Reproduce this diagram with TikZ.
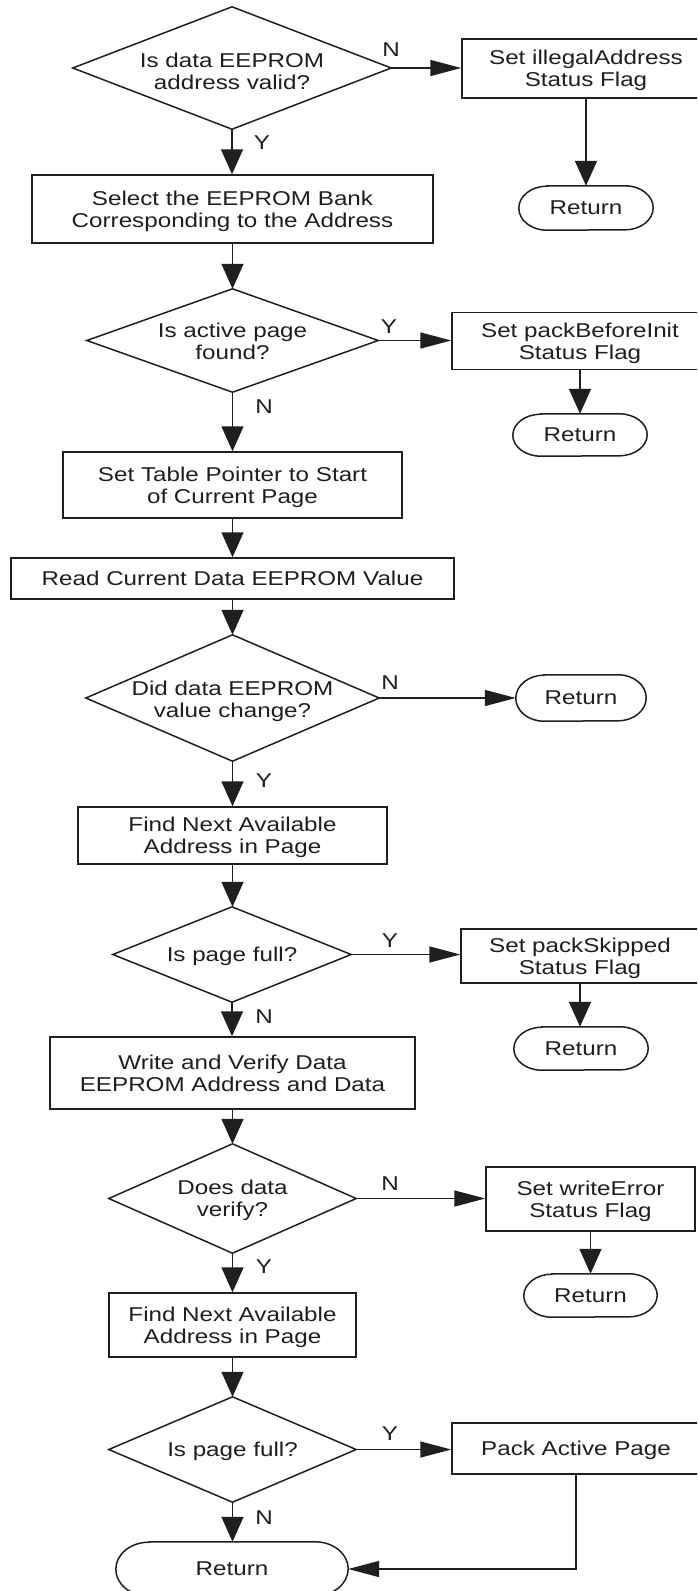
\documentclass[tikz,border=0pt]{standalone}
\usepackage{fontspec}
\setmainfont[FakeStretch=1.21]{Liberation Sans}
\usetikzlibrary{arrows.meta}
\tikzset{
  ln/.style={line width=1.5pt, draw=black!88},
  txt/.style={font=\fontsize{20pt}{22pt}\selectfont, align=center, inner sep=0pt, text=black!88, text depth=0pt},
  boxnode/.style={txt, ln, draw},
  dianode/.style={txt},
  termnode/.style={txt},
  lab/.style={txt},
  varr/.style={ln, -{Triangle[length=25pt,width=22pt]}},
  harr/.style={ln, -{Triangle[length=31pt,width=16pt]}},
}
\newcommand\termline[3]{\draw[ln] ([xshift=#2]#1.north west) -- ([xshift=-#2]#1.north east) arc[start angle=90,end angle=-90,x radius=#2,y radius=#3] -- ([xshift=#2]#1.south west) arc[start angle=270,end angle=90,x radius=#2,y radius=#3] -- cycle;}
\newcommand\dialine[2]{\draw[ln] ([yshift=#2]#1.west) -- ([yshift=#2]#1.north) -- ([yshift=#2]#1.east) -- ([yshift=#2]#1.south) -- cycle;}
\begin{document}
\begin{tikzpicture}[x=1pt,y=1pt]
\useasboundingbox (0,0) rectangle (697,-1591);
\clip (0,0) rectangle (697,-1591);
\fill[white] (0,0) rectangle (697,-1591);

% main column
\node[dianode, minimum width=318pt, minimum height=122pt] (d1) at (232,-71) {Is data EEPROM\\address valid?};
\dialine{d1}{3pt}
\node[boxnode, minimum width=401pt, minimum height=68pt] (b2) at (232.5,-209) {Select the EEPROM Bank\\Corresponding to the Address};
\node[dianode, minimum width=291pt, minimum height=103pt] (d2) at (232.5,-341.5) {Is active page\\found?};
\dialine{d2}{1pt}
\node[boxnode, minimum width=339pt, minimum height=66pt] (b4) at (232.5,-485) {Set Table Pointer to Start\\of Current Page};
\node[boxnode, minimum width=443pt, minimum height=41pt] (b5) at (232.5,-578.5) {Read Current Data EEPROM Value};
\node[dianode, minimum width=293pt, minimum height=126pt] (d3) at (232.5,-699) {Did data EEPROM\\value change?};
\dialine{d3}{1pt}
\node[boxnode, minimum width=309pt, minimum height=57pt] (b6) at (232.5,-835.5) {Find Next Available\\Address in Page};
\node[dianode, minimum width=238pt, minimum height=95pt] (d4) at (232,-954.5) {Is page full?};
\dialine{d4}{0pt}
\node[boxnode, minimum width=365pt, minimum height=72pt] (b8) at (232.5,-1073) {Write and Verify Data\\EEPROM Address and Data};
\node[dianode, minimum width=247pt, minimum height=109pt] (d5) at (232.5,-1198.5) {Does data\\verify?};
\dialine{d5}{0pt}
\node[boxnode, minimum width=247pt, minimum height=64pt] (b10) at (232.5,-1325) {Find Next Available\\Address in Page};
\node[dianode, minimum width=247pt, minimum height=105pt] (d6) at (232.5,-1449.5) {Is page full?};
\dialine{d6}{0pt}
\node[termnode, minimum width=232pt, minimum height=54pt] (r6) at (232,-1569) {Return};
\termline{r6}{33pt}{27pt}

% right column
\node[boxnode, minimum width=248pt, minimum height=59pt] (b1) at (586,-68.5) {Set illegalAddress\\Status Flag};
\node[termnode, minimum width=134pt, minimum height=44pt] (r1) at (586,-208) {Return};
\termline{r1}{28pt}{22pt}
\node[boxnode, minimum width=256pt, minimum height=57pt] (b3) at (580,-341) {Set packBeforeInit\\Status Flag};
\node[termnode, minimum width=134pt, minimum height=42pt] (r2) at (580,-435) {Return};
\termline{r2}{28pt}{21pt}
\node[termnode, minimum width=130pt, minimum height=46pt] (r3) at (581,-698) {Return};
\termline{r3}{28pt}{23pt}
\node[boxnode, minimum width=238pt, minimum height=54pt] (b7) at (580,-956) {Set packSkipped\\Status Flag};
\node[termnode, minimum width=134pt, minimum height=43pt] (r4) at (581,-1048.5) {Return};
\termline{r4}{28pt}{21.5pt}
\node[boxnode, minimum width=209pt, minimum height=64pt] (b9) at (590.5,-1199) {Set writeError\\Status Flag};
\node[termnode, minimum width=133pt, minimum height=43pt] (r5) at (590.5,-1295.5) {Return};
\termline{r5}{28pt}{21.5pt}
\node[boxnode, minimum width=248pt, minimum height=51pt] (b11) at (576,-1448.5) {Pack Active Page};

% labels
\node[lab] (l1) at (391,-50) {N};
\node[lab] (l2) at (262,-143) {Y};
\node[lab] (l3) at (389,-327) {Y};
\node[lab] (l4) at (264,-407) {N};
\node[lab] (l5) at (390,-683) {N};
\node[lab] (l6) at (264,-781) {Y};
\node[lab] (l7) at (390,-941) {Y};
\node[lab] (l8) at (264,-1017) {N};
\node[lab] (l9) at (390,-1184) {N};
\node[lab] (l10) at (264,-1267) {Y};
\node[lab] (l11) at (390,-1434) {Y};
\node[lab] (l12) at (264,-1518) {N};

% vertical connectors
\draw[varr] ([yshift=3pt]d1.south) -- (d1.south |- b2.north);
\draw[varr] (b2.south) -- ([yshift=1pt]b2.south |- d2.north);
\draw[varr] ([yshift=1pt]d2.south) -- (d2.south |- b4.north);
\draw[varr] (b4.south) -- (b4.south |- b5.north);
\draw[varr] (b5.south) -- ([yshift=1pt]b5.south |- d3.north);
\draw[varr] ([yshift=1pt]d3.south) -- (d3.south |- b6.north);
\draw[varr] (b6.south) -- (b6.south |- d4.north);
\draw[varr] (d4.south) -- (d4.south |- b8.north);
\draw[varr] (b8.south) -- (b8.south |- d5.north);
\draw[varr] (d5.south) -- (d5.south |- b10.north);
\draw[varr] (b10.south) -- (b10.south |- d6.north);
\draw[varr] (d6.south) -- (d6.south |- r6.north);
\draw[varr] (b1.south) -- (b1.south |- r1.north);
\draw[varr] (b3.south) -- (b3.south |- r2.north);
\draw[varr] (b7.south) -- (b7.south |- r4.north);
\draw[varr] (b9.south) -- (b9.south |- r5.north);

% horizontal connectors
\draw[harr] ([yshift=3pt]d1.east) -- ([yshift=3pt]d1.east -| b1.west);
\draw[harr] ([yshift=1pt]d2.east) -- ([yshift=1pt]d2.east -| b3.west);
\draw[harr] ([yshift=1pt]d3.east) -- ([yshift=1pt]d3.east -| r3.west);
\draw[harr] (d4.east) -- (d4.east -| b7.west);
\draw[harr] (d5.east) -- (d5.east -| b9.west);
\draw[harr] (d6.east) -- (d6.east -| b11.west);
\draw[harr] (b11.south) |- (r6.east);
\end{tikzpicture}
\end{document}
